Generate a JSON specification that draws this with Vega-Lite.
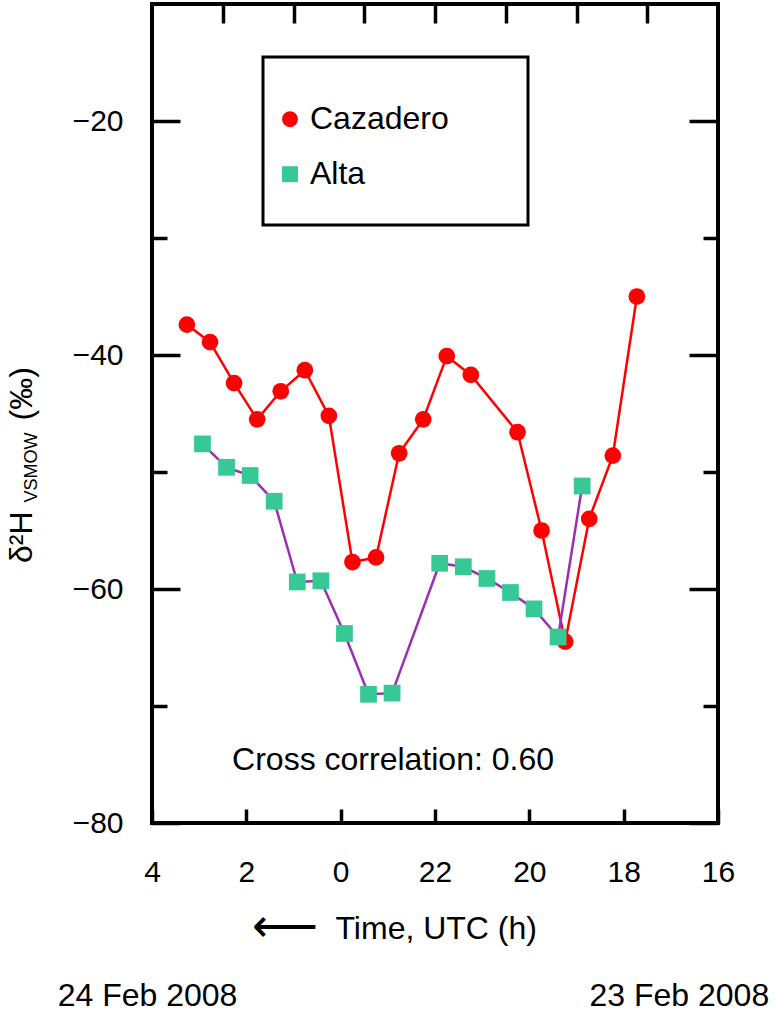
{
  "$schema": "https://vega.github.io/schema/vega-lite/v6.json",
  "description": "Deuterium ratio at Cazadero and Alta, 23-24 Feb 2008",
  "autosize": "none",
  "width": 566,
  "height": 819,
  "padding": {"left": 152, "top": 4, "right": 57, "bottom": 189},
  "background": "white",
  "config": {
    "font": "Liberation Sans",
    "view": {"stroke": "black", "strokeWidth": 4},
    "axis": {
      "domain": false,
      "grid": false,
      "tickColor": "black",
      "tickWidth": 3.5,
      "labelColor": "black",
      "labelFont": "Liberation Sans",
      "labelFontSize": 30,
      "labelFlush": false,
      "titleColor": "black",
      "titleFont": "Liberation Sans",
      "titleFontWeight": "normal"
    },
    "legend": {
      "strokeColor": "black",
      "strokeWidth": 3,
      "fillColor": "white",
      "padding": 34,
      "labelFont": "Liberation Sans",
      "labelFontSize": 32,
      "labelColor": "black",
      "labelLimit": 400,
      "labelOffset": 4,
      "symbolOffset": -23,
      "symbolSize": 254,
      "symbolStrokeWidth": 0,
      "rowPadding": 23,
      "titleFontSize": 8.2,
      "titleColor": "white",
      "titleLimit": 400,
      "titlePadding": 4
    }
  },
  "datasets": {
    "samples": [
      {"site": "Cazadero", "hour": 3.26, "d2h": -37.4},
      {"site": "Cazadero", "hour": 2.77, "d2h": -38.9},
      {"site": "Cazadero", "hour": 2.26, "d2h": -42.4},
      {"site": "Cazadero", "hour": 1.77, "d2h": -45.5},
      {"site": "Cazadero", "hour": 1.27, "d2h": -43.1},
      {"site": "Cazadero", "hour": 0.76, "d2h": -41.3},
      {"site": "Cazadero", "hour": 0.25, "d2h": -45.2},
      {"site": "Cazadero", "hour": -0.25, "d2h": -57.7},
      {"site": "Cazadero", "hour": -0.75, "d2h": -57.3},
      {"site": "Cazadero", "hour": -1.24, "d2h": -48.4},
      {"site": "Cazadero", "hour": -1.75, "d2h": -45.5},
      {"site": "Cazadero", "hour": -2.25, "d2h": -40.1},
      {"site": "Cazadero", "hour": -2.76, "d2h": -41.7},
      {"site": "Cazadero", "hour": -3.75, "d2h": -46.6},
      {"site": "Cazadero", "hour": -4.26, "d2h": -55.0},
      {"site": "Cazadero", "hour": -4.76, "d2h": -64.5},
      {"site": "Cazadero", "hour": -5.27, "d2h": -54.0},
      {"site": "Cazadero", "hour": -5.77, "d2h": -48.6},
      {"site": "Cazadero", "hour": -6.28, "d2h": -35.0},
      {"site": "Alta", "hour": 2.93, "d2h": -47.6},
      {"site": "Alta", "hour": 2.42, "d2h": -49.6},
      {"site": "Alta", "hour": 1.92, "d2h": -50.3},
      {"site": "Alta", "hour": 1.41, "d2h": -52.5},
      {"site": "Alta", "hour": 0.92, "d2h": -59.4},
      {"site": "Alta", "hour": 0.42, "d2h": -59.3},
      {"site": "Alta", "hour": -0.08, "d2h": -63.8},
      {"site": "Alta", "hour": -0.59, "d2h": -69.0},
      {"site": "Alta", "hour": -1.09, "d2h": -68.9},
      {"site": "Alta", "hour": -2.10, "d2h": -57.8},
      {"site": "Alta", "hour": -2.60, "d2h": -58.1},
      {"site": "Alta", "hour": -3.10, "d2h": -59.1},
      {"site": "Alta", "hour": -3.60, "d2h": -60.3},
      {"site": "Alta", "hour": -4.10, "d2h": -61.7},
      {"site": "Alta", "hour": -4.61, "d2h": -64.1},
      {"site": "Alta", "hour": -5.12, "d2h": -51.2}
    ]
  },
  "layer": [
    {
      "data": {"name": "samples"},
      "transform": [{"filter": "datum.site === 'Cazadero'"}],
      "mark": {"type": "line", "strokeWidth": 2.5, "color": "#ff0000"},
      "encoding": {
        "x": {
          "field": "hour",
          "type": "quantitative",
          "scale": {"domain": [-8, 4], "reverse": true, "nice": false, "zero": false},
          "axis": {
            "orient": "bottom",
            "values": [4, 2, 0, -2, -4, -6, -8],
            "tickSize": -14,
            "labelPadding": 48,
            "labelExpr": "datum.value < 0 ? format(datum.value + 24, 'd') : format(datum.value, 'd')",
            "title": "Time, UTC (h)",
            "titleFontSize": 32,
            "titleX": 183,
            "titleY": 115,
            "titleAlign": "left",
            "titleBaseline": "alphabetic"
          }
        },
        "y": {
          "field": "d2h",
          "type": "quantitative",
          "scale": {"domain": [-80, -10], "nice": false, "zero": false},
          "axis": {
            "orient": "left",
            "values": [-80, -70, -60, -50, -40, -30, -20],
            "tickSize": {"expr": "datum.value % 20 === 0 ? -28 : -15"},
            "labelPadding": 57,
            "labelExpr": "datum.value % 20 === 0 ? datum.label : ''",
            "title": null
          }
        }
      }
    },
    {
      "data": {"name": "samples"},
      "transform": [{"filter": "datum.site === 'Alta'"}],
      "mark": {"type": "line", "strokeWidth": 2.5, "color": "#9b2fb2"},
      "encoding": {
        "x": {"field": "hour", "type": "quantitative", "axis": null},
        "y": {"field": "d2h", "type": "quantitative", "axis": null}
      }
    },
    {
      "data": {"name": "samples"},
      "mark": {"type": "point", "filled": true, "opacity": 1, "strokeWidth": 0, "size": 280},
      "encoding": {
        "x": {
          "field": "hour",
          "type": "quantitative",
          "axis": {
            "orient": "top",
            "values": [2.5, 1, -0.5, -2, -3.5, -5, -6.5],
            "tickSize": -19,
            "labels": false,
            "title": null
          }
        },
        "y": {
          "field": "d2h",
          "type": "quantitative",
          "axis": {
            "orient": "right",
            "values": [-80, -70, -60, -50, -40, -30, -20],
            "tickSize": {"expr": "datum.value % 20 === 0 ? -29 : -15"},
            "labels": false,
            "title": null
          }
        },
        "color": {
          "field": "site",
          "type": "nominal",
          "scale": {"domain": ["Cazadero", "Alta"], "range": ["#ff0000", "#36c996"]},
          "legend": {
            "title": "————————————————————————",
            "orient": "none",
            "legendX": 111,
            "legendY": 53
          }
        },
        "shape": {
          "field": "site",
          "type": "nominal",
          "scale": {"domain": ["Cazadero", "Alta"], "range": ["circle", "square"]},
          "legend": {
            "title": "————————————————————————",
            "orient": "none",
            "legendX": 111,
            "legendY": 53
          }
        }
      }
    },
    {
      "data": {
        "values": [
          {"note": "δ²H", "hour": 6.544, "d2h": -57.78},
          {"note": "(‰)", "hour": 6.544, "d2h": -45.6}
        ]
      },
      "mark": {"type": "text", "angle": 270, "align": "left", "baseline": "alphabetic", "fontSize": 32, "color": "black"},
      "encoding": {
        "x": {"field": "hour", "type": "quantitative", "axis": null},
        "y": {"field": "d2h", "type": "quantitative", "axis": null},
        "text": {"field": "note"}
      }
    },
    {
      "data": {
        "values": [
          {"note": "VSMOW", "hour": 6.44, "d2h": -52.6}
        ]
      },
      "mark": {"type": "text", "angle": 270, "align": "left", "baseline": "alphabetic", "fontSize": 18, "color": "black"},
      "encoding": {
        "x": {"field": "hour", "type": "quantitative", "axis": null},
        "y": {"field": "d2h", "type": "quantitative", "axis": null},
        "text": {"field": "note"}
      }
    },
    {
      "data": {
        "values": [
          {"note": "⟵", "hour": 1.18, "d2h": -90.17}
        ]
      },
      "mark": {"type": "text", "align": "center", "baseline": "alphabetic", "fontSize": 46, "color": "black"},
      "encoding": {
        "x": {"field": "hour", "type": "quantitative", "axis": null},
        "y": {"field": "d2h", "type": "quantitative", "axis": null},
        "text": {"field": "note"}
      }
    },
    {
      "data": {
        "values": [
          {"note": "Cross correlation: 0.60", "hour": -1.11, "d2h": -75.47},
          {"note": "24 Feb 2008", "hour": 4.095, "d2h": -95.64},
          {"note": "23 Feb 2008", "hour": -7.18, "d2h": -95.64}
        ]
      },
      "mark": {"type": "text", "align": "center", "baseline": "alphabetic", "fontSize": 32, "color": "black"},
      "encoding": {
        "x": {"field": "hour", "type": "quantitative", "axis": null},
        "y": {"field": "d2h", "type": "quantitative", "axis": null},
        "text": {"field": "note"}
      }
    }
  ],
  "resolve": {"axis": {"x": "independent", "y": "independent"}}
}
